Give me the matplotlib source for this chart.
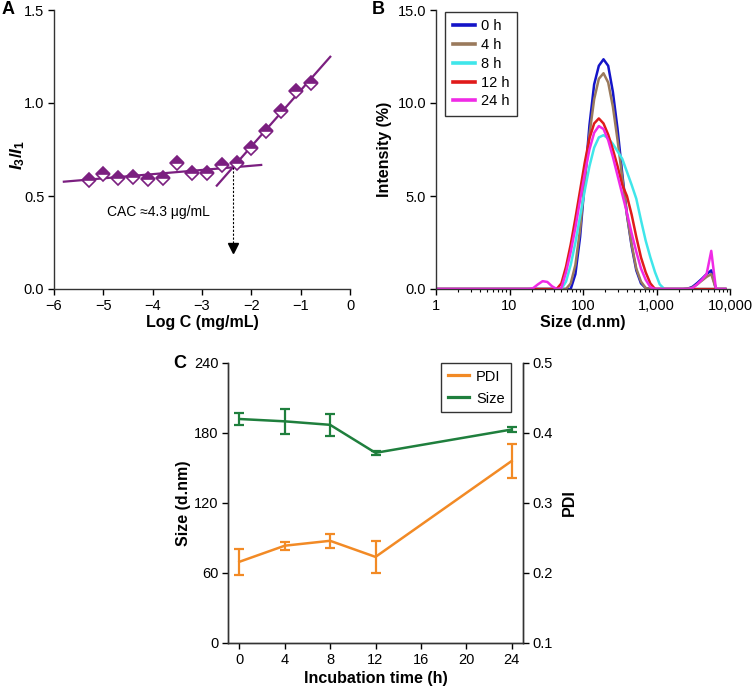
import numpy as np
import matplotlib
matplotlib.use("Agg")
import matplotlib.pyplot as plt
from matplotlib.ticker import FixedLocator, FuncFormatter, LogLocator, NullFormatter
from matplotlib.lines import Line2D

plt.rcParams['font.family'] = ['Liberation Sans', 'DejaVu Sans']
plt.rcParams['mathtext.fontset'] = 'custom'
plt.rcParams['mathtext.rm'] = 'Liberation Sans:bold'
plt.rcParams['mathtext.it'] = 'Liberation Sans:italic:bold'
plt.rcParams['mathtext.bf'] = 'Liberation Sans:bold'
plt.rcParams['axes.unicode_minus'] = True

# ---------------- Panel A data ----------------
logc = [-5.3, -5.0, -4.7, -4.4, -4.1, -3.8, -3.5, -3.2, -2.9, -2.6,
        -2.3, -2.0, -1.7, -1.4, -1.1, -0.8]
ratio = [0.585, 0.617, 0.598, 0.603, 0.594, 0.598, 0.680, 0.626, 0.621, 0.664,
         0.678, 0.759, 0.849, 0.956, 1.066, 1.105]
n_flat = 10                      # first 10 points: pre-aggregation regime
flat_fit_range = [-5.8, -1.8]
steep_fit_range = [-2.7, -0.4]
arrow_tip = 0.19
cac_label = "CAC \u22484.3 \u03bcg/mL"

# ---------------- Panel B data ----------------
sizes = [0.9649, 1.117, 1.294, 1.499, 1.736, 2.01, 2.328, 2.696, 3.122, 3.615,
         4.187, 4.849, 5.615, 6.503, 7.531, 8.721, 10.1, 11.7, 13.54, 15.69,
         18.17, 21.04, 24.36, 28.21, 32.67, 37.84, 43.82, 50.75, 58.77, 68.06,
         78.82, 91.28, 105.7, 122.4, 141.8, 164.2, 190.1, 220.2, 255.0, 295.3,
         342.0, 396.1, 458.7, 531.2, 615.1, 712.4, 825.0, 955.4, 1106, 1281,
         1484, 1718, 1990, 2305, 2669, 3091, 3580, 4145, 4801, 5560,
         6439, 7456, 8635]
# values from 18.17 nm onward (earlier bins are all zero)
i0h = [0, 0, 0, 0, 0, 0, 0, 0, 0, 0,
       0.8, 2.8, 5.8, 8.8, 11.0, 12.0, 12.35, 12.0, 10.6, 8.6,
       6.2, 4.0, 2.3, 1.0, 0.3, 0.05, 0, 0, 0, 0,
       0, 0, 0, 0, 0.02, 0.12, 0.32, 0.55, 0.8, 1.0,
       0, 0, 0]
i4h = [0, 0, 0, 0, 0, 0, 0, 0, 0, 0.3,
       1.3, 3.2, 5.8, 8.3, 10.2, 11.3, 11.6, 11.1, 9.8, 8.0,
       6.0, 4.0, 2.4, 1.1, 0.4, 0.05, 0, 0, 0, 0,
       0, 0, 0, 0, 0.02, 0.08, 0.25, 0.45, 0.65, 0.8,
       0, 0, 0]
i8h = [0, 0, 0, 0, 0, 0, 0, 0, 0.4, 1.3,
       2.5, 3.9, 5.3, 6.6, 7.6, 8.15, 8.27, 8.1, 7.8, 7.4,
       7.0, 6.3, 5.6, 4.85, 3.7, 2.6, 1.7, 0.9, 0.25, 0,
       0, 0, 0, 0, 0, 0, 0, 0, 0, 0,
       0, 0, 0]
i12h = [0, 0, 0, 0, 0, 0, 0, 0.3, 1.2, 2.4,
        3.8, 5.3, 6.8, 8.1, 8.9, 9.17, 8.9, 8.3, 7.5, 6.6,
        5.6, 5.0, 4.0, 2.8, 1.7, 0.9, 0.3, 0, 0, 0,
        0, 0, 0, 0, 0, 0, 0, 0, 0, 0,
        0, 0, 0]
i24h = [0, 0.05, 0.25, 0.42, 0.38, 0.15, 0, 0.05, 0.9, 2.0,
        3.3, 4.8, 6.2, 7.5, 8.4, 8.76, 8.6, 8.0, 7.1, 6.1,
        5.1, 4.1, 3.0, 2.0, 1.1, 0.5, 0.1, 0, 0, 0,
        0, 0, 0, 0, 0, 0.05, 0.25, 0.5, 0.8, 2.05,
        0, 0, 0]
n_zero = len(sizes) - len(i0h)
series_labels = ["0 h", "4 h", "8 h", "12 h", "24 h"]
series_colors = ["#1414C8", "#9A7A5C", "#3FE6EA", "#E01A1A", "#F02AE6"]

# ---------------- Panel C data ----------------
time_h = [0, 4, 8, 12, 24]
size_nm = [192, 190, 187, 163, 183]
size_err = [5.5, 11, 9.5, 2, 2]
pdi = [0.216, 0.239, 0.246, 0.223, 0.360]
pdi_err = [0.019, 0.0055, 0.010, 0.023, 0.024]

W, H = 752, 688
fig = plt.figure(figsize=(W / 100, H / 100), dpi=100)

def frac(l, t, r, b):
    return [l / W, 1 - b / H, (r - l) / W, (b - t) / H]

tick_fs = 10.5
lab_fs = 11.5
purple = "#7B1F80"

def style(ax):
    ax.tick_params(direction='out', length=4.5, width=1, pad=2.5,
                   labelsize=tick_fs, colors='black')
    for s in ax.spines.values():
        s.set_linewidth(1.0)
        s.set_color('#333333')

# ---------------- Panel A ----------------
axA = fig.add_axes(frac(54, 10, 350, 289))
style(axA)
axA.spines['top'].set_visible(False)
axA.spines['right'].set_visible(False)
x = np.array(logc)
y = np.array(ratio)
p1 = np.polyfit(x[:n_flat], y[:n_flat], 1)
p2 = np.polyfit(x[n_flat:], y[n_flat:], 1)
xf = np.array(flat_fit_range)
xs = np.array(steep_fit_range)
axA.plot(xf, np.polyval(p1, xf), color=purple, lw=1.6, zorder=2)
axA.plot(xs, np.polyval(p2, xs), color=purple, lw=1.6, zorder=2)
axA.plot(x, y, linestyle='none', marker='D', markersize=7.5, fillstyle='top',
         markerfacecolor=purple, markerfacecoloralt='white', markeredgecolor=purple,
         markeredgewidth=1.2, zorder=3)
xi = (p2[1] - p1[1]) / (p1[0] - p2[0])
yi = np.polyval(p1, xi)
axA.plot([xi, xi], [yi, arrow_tip + 0.03], color='black', lw=0.8, linestyle=(0, (2, 1.5)))
axA.plot([xi], [arrow_tip + 0.03], marker='v', color='black', markersize=7, linestyle='none')
axA.text(-4.93, 0.415, cac_label, fontsize=10, va='center', ha='left')
axA.set_xlim(-6, 0)
axA.set_ylim(0, 1.5)
axA.set_xticks([-6, -5, -4, -3, -2, -1, 0])
axA.set_yticks([0, 0.5, 1.0, 1.5])
axA.yaxis.set_major_formatter(FuncFormatter(lambda v, p: f"{v:.1f}"))
axA.set_xlabel("Log C (mg/mL)", fontsize=lab_fs, fontweight='bold', labelpad=2)
fig.text(18 / W, 1 - 155 / H, r"$I_3/I_1$", fontsize=lab_fs + 1, rotation=90,
         ha='center', va='center')

# ---------------- Panel B ----------------
axB = fig.add_axes(frac(436, 10, 730, 289))
style(axB)
axB.spines['top'].set_visible(False)
axB.spines['right'].set_visible(False)
for vals, lab, col in zip([i0h, i4h, i8h, i12h, i24h], series_labels, series_colors):
    full = [0.0] * n_zero + list(vals)
    axB.plot(sizes, full, color=col, lw=1.8, label=lab)
axB.set_xscale('log')
axB.set_xlim(1, 10000)
axB.set_ylim(0, 15)
axB.set_yticks([0, 5, 10, 15])
axB.yaxis.set_major_formatter(FuncFormatter(lambda v, p: f"{v:.1f}"))
axB.xaxis.set_major_locator(FixedLocator([1, 10, 100, 1000, 10000]))
axB.xaxis.set_major_formatter(FuncFormatter(lambda v, p: f"{int(round(v)):,}"))
axB.xaxis.set_minor_locator(LogLocator(base=10, subs=np.arange(2, 10)))
axB.xaxis.set_minor_formatter(NullFormatter())
axB.tick_params(which='minor', direction='out', length=2.5, width=0.8)
axB.set_xlabel("Size (d.nm)", fontsize=lab_fs, fontweight='bold', labelpad=2)
axB.set_ylabel("Intensity (%)", fontsize=lab_fs, fontweight='bold', labelpad=4)
legB = axB.legend(loc='upper left', bbox_to_anchor=(0.032, 0.993), fontsize=tick_fs,
                  frameon=True, fancybox=False, edgecolor='#333333', framealpha=1,
                  handlelength=1.5, handletextpad=0.45, labelspacing=0.33,
                  borderpad=0.5, borderaxespad=0.0)
legB.get_frame().set_linewidth(1.0)
for h in legB.get_lines():
    h.set_linewidth(2.6)

# ---------------- Panel C ----------------
axC = fig.add_axes(frac(228, 363, 523, 643))
style(axC)
axC.spines['top'].set_visible(False)
axC2 = axC.twinx()
style(axC2)
axC2.spines['top'].set_visible(False)
green = "#1F7F3D"
orange = "#F28A25"
axC.errorbar(time_h, size_nm, yerr=size_err, color=green, lw=1.8,
             elinewidth=1.6, capsize=3.5, capthick=1.6, label="Size")
axC2.errorbar(time_h, pdi, yerr=pdi_err, color=orange, lw=1.8,
              elinewidth=1.6, capsize=3.5, capthick=1.6, label="PDI")
axC.set_xlim(-1, 25)
axC.set_ylim(0, 240)
axC2.set_ylim(0.1, 0.5)
axC.set_xticks([0, 4, 8, 12, 16, 20, 24])
axC.set_yticks([0, 60, 120, 180, 240])
axC2.set_yticks([0.1, 0.2, 0.3, 0.4, 0.5])
axC2.yaxis.set_major_formatter(FuncFormatter(lambda v, p: f"{v:.1f}"))
axC.set_xlabel("Incubation time (h)", fontsize=lab_fs, fontweight='bold', labelpad=3)
axC.set_ylabel("Size (d.nm)", fontsize=lab_fs, fontweight='bold', labelpad=2)
axC2.set_ylabel("PDI", fontsize=lab_fs, fontweight='bold', labelpad=6)
handles = [Line2D([], [], color=orange, lw=2.3), Line2D([], [], color=green, lw=2.3)]
legC = axC2.legend(handles, ["PDI", "Size"], loc='upper right', bbox_to_anchor=(0.96, 1.0),
                   fontsize=tick_fs, frameon=True, fancybox=False, edgecolor='#333333',
                   framealpha=1, handlelength=1.5, handletextpad=0.45, labelspacing=0.55,
                   borderpad=0.45, borderaxespad=0.0)
legC.get_frame().set_linewidth(1.0)

# panel letters
fig.text(2 / W, 1 - 9 / H, "A", fontsize=13, fontweight='bold', ha='left', va='center')
fig.text(372 / W, 1 - 9 / H, "B", fontsize=13, fontweight='bold', ha='left', va='center')
fig.text(173 / W, 1 - 363 / H, "C", fontsize=13, fontweight='bold', ha='left', va='center')

fig.savefig("out.png", dpi=100)
